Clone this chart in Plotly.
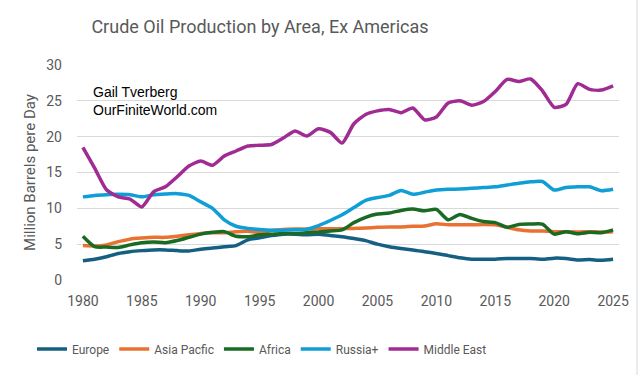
import plotly.graph_objects as go

years = list(range(1980, 2026))

europe = [2.7, 2.9, 3.25, 3.7, 3.95, 4.1, 4.2, 4.2, 4.1, 4.05, 4.3, 4.45, 4.65, 4.8, 5.6, 5.9,
          6.2, 6.4, 6.4, 6.3, 6.4, 6.2, 6.05, 5.8, 5.5, 5.0, 4.65, 4.4, 4.2, 3.95, 3.7,
          3.4, 3.1, 2.9, 2.9, 2.9, 3.0, 3.0, 3.0, 2.9, 3.05, 3.0, 2.8, 2.85, 2.75, 2.9]
asia_pacific = [4.8, 4.75, 4.9, 5.35, 5.7, 5.85, 5.95, 5.95, 6.1, 6.3, 6.5, 6.6, 6.6, 6.75, 6.8, 6.65,
                6.9, 7.05, 7.1, 7.1, 7.15, 7.15, 7.15, 7.2, 7.25, 7.35, 7.4, 7.4, 7.5, 7.55, 7.85,
                7.7, 7.7, 7.7, 7.75, 7.7, 7.35, 7.0, 6.85, 6.85, 6.75, 6.75, 6.7, 6.75, 6.7, 6.75]
africa = [6.1, 4.65, 4.6, 4.55, 4.9, 5.2, 5.3, 5.2, 5.5, 5.95, 6.4, 6.65, 6.75, 6.1, 6.05, 6.3,
          6.4, 6.5, 6.5, 6.6, 6.7, 6.85, 7.0, 8.0, 8.75, 9.2, 9.35, 9.7, 9.9, 9.65, 9.85,
          8.4, 9.15, 8.6, 8.15, 8.0, 7.35, 7.75, 7.8, 7.8, 6.4, 6.75, 6.45, 6.65, 6.6, 7.0]
russia = [11.6, 11.8, 11.9, 11.95, 11.9, 11.6, 11.9, 12.0, 12.05, 11.8, 10.9, 10.0, 8.4, 7.5, 7.2, 7.05,
          6.95, 6.95, 7.0, 7.1, 7.6, 8.3, 9.1, 10.1, 11.1, 11.5, 11.8, 12.5, 11.95, 12.25, 12.55,
          12.65, 12.7, 12.8, 12.9, 13.0, 13.25, 13.5, 13.7, 13.75, 12.55, 12.9, 13.0, 13.0, 12.45, 12.65]
middle_east = [18.5, 15.6, 12.6, 11.6, 11.3, 10.2, 12.3, 13.0, 14.4, 15.9, 16.6, 16.0, 17.3, 18.0, 18.7, 18.8,
               18.9, 19.8, 20.8, 20.1, 21.1, 20.6, 19.1, 21.8, 23.1, 23.6, 23.8, 23.35, 24.0, 22.35, 22.75,
               24.7, 25.0, 24.4, 24.9, 26.3, 28.0, 27.7, 28.05, 26.4, 24.1, 24.5, 27.4, 26.6, 26.5, 27.1]

series_names = ["Europe", "Asia Pacfic", "Africa", "Russia+", "Middle East"]
series_values = [europe, asia_pacific, africa, russia, middle_east]
series_colors = ["#156082", "#E97132", "#196B24", "#0F9ED5", "#A02B93"]

x_tick_labels = [str(y) for y in range(1980, 2026, 5)]
y_tick_values = [0, 5, 10, 15, 20, 25, 30]

fam = "Roboto, sans-serif"
grey = "#595959"


def nfont(size, color=grey):
    return dict(family=fam, size=size, color=color)


fig = go.Figure()
for name, vals, col in zip(series_names, series_values, series_colors):
    fig.add_trace(go.Scatter(x=years, y=vals, mode="lines", name=name,
                             line=dict(color=col, width=3.5, shape="spline", smoothing=0.6)))

fig.update_layout(
    width=640, height=375,
    margin=dict(l=77, r=21, t=65, b=95),
    paper_bgcolor="white", plot_bgcolor="white",
    title=dict(text="Crude Oil Production by Area, Ex Americas",
               font=nfont(18),
               x=260 / 640, xanchor="center", y=1 - 27 / 375, yanchor="middle"),
    legend=dict(orientation="h", x=262 / 640, xref="container", xanchor="center",
                y=1 - 349 / 375, yref="container", yanchor="middle",
                font=nfont(12),
                itemwidth=30, tracegroupgap=0),
    xaxis=dict(range=[1979.5, 2025.5], tickvals=list(range(1980, 2026, 5)),
               ticktext=x_tick_labels, showgrid=False, zeroline=False,
               showline=False, ticks="",
               tickfont=nfont(14),
               ticklabelstandoff=11),
    yaxis=dict(range=[0, 30], tickvals=y_tick_values, showgrid=True,
               gridcolor="#d9d9d9", gridwidth=1, zeroline=False, showline=False,
               tickfont=nfont(14),
               ticklabelstandoff=14,
               title=dict(text="Million Barrels pere Day",
                          font=nfont(15), standoff=7)),
    annotations=[
        dict(text="Gail Tverberg<br>OurFiniteWorld.com", xref="paper", yref="paper",
             x=(91 - 77) / 542, y=(280 - 82) / 215, xanchor="left", yanchor="top",
             align="left", showarrow=False,
             font=dict(family="Liberation Sans, Arial, sans-serif", size=14, color="black"))
    ],
    shapes=[
        dict(type="line", xref="paper", yref="paper", x0=(637 - 77) / 542, x1=(637 - 77) / 542,
             y0=-0.45, y1=1.31, line=dict(color="#d9d9d9", width=1))
    ],
)

fig.write_html("out.html")
